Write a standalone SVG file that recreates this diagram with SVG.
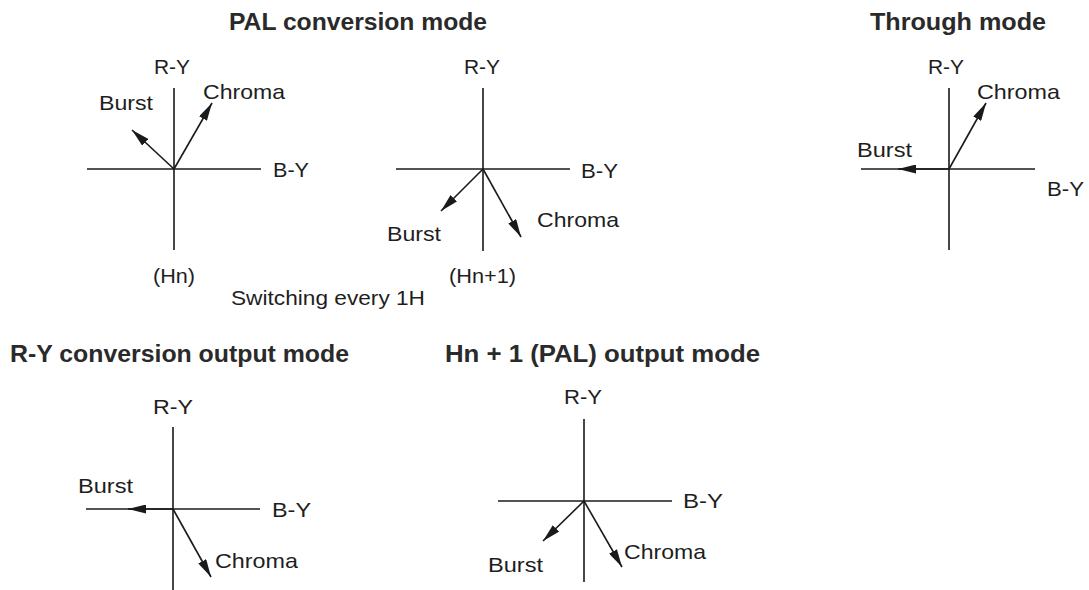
<svg xmlns="http://www.w3.org/2000/svg" width="1089" height="590" viewBox="0 0 1089 590">
<style>
.ax{stroke:#1a1a1a;stroke-width:1.6;fill:none}
.ar{stroke:#1a1a1a;stroke-width:1.6;fill:none;marker-end:url(#ah)}
text{font-family:"Liberation Sans",Arial,Helvetica,sans-serif;fill:#1e1e1e;font-size:21px}
.t{font-weight:bold;font-size:23px;fill:#2a2a2a}
</style>
<defs>
<marker id="ah" viewBox="0 0 18 9" refX="18" refY="4.5" markerWidth="18" markerHeight="9" markerUnits="userSpaceOnUse" orient="auto">
<path d="M0,0 L18,4.5 L0,9 z" fill="#1a1a1a"/>
</marker>
</defs>
<rect width="1089" height="590" fill="#ffffff"/>
<g id="titles">
<text class="t" x="229" y="30" textLength="258" lengthAdjust="spacingAndGlyphs">PAL conversion mode</text>
<text class="t" x="870" y="30" textLength="176" lengthAdjust="spacingAndGlyphs">Through mode</text>
<text class="t" x="10" y="362" textLength="339" lengthAdjust="spacingAndGlyphs">R-Y conversion output mode</text>
<text class="t" x="445" y="362" textLength="315" lengthAdjust="spacingAndGlyphs">Hn + 1 (PAL) output mode</text>
<text x="231" y="305" textLength="194" lengthAdjust="spacingAndGlyphs">Switching every 1H</text>
</g>
<g id="pal-hn">
<line class="ax" x1="174" y1="88" x2="174" y2="250"/>
<line class="ax" x1="87" y1="169" x2="261" y2="169"/>
<text x="154" y="74" textLength="36" lengthAdjust="spacingAndGlyphs">R-Y</text>
<text x="99" y="110" textLength="54" lengthAdjust="spacingAndGlyphs">Burst</text>
<text x="203" y="99" textLength="82" lengthAdjust="spacingAndGlyphs">Chroma</text>
<text x="273" y="177" textLength="36" lengthAdjust="spacingAndGlyphs">B-Y</text>
<text x="153" y="283" textLength="42" lengthAdjust="spacingAndGlyphs">(Hn)</text>
</g>
<g id="pal-hn1">
<line class="ax" x1="483" y1="88" x2="483" y2="251"/>
<line class="ax" x1="396" y1="169" x2="570" y2="169"/>
<text x="464" y="74" textLength="36" lengthAdjust="spacingAndGlyphs">R-Y</text>
<text x="387" y="241" textLength="54" lengthAdjust="spacingAndGlyphs">Burst</text>
<text x="537" y="227" textLength="82" lengthAdjust="spacingAndGlyphs">Chroma</text>
<text x="581" y="178" textLength="37" lengthAdjust="spacingAndGlyphs">B-Y</text>
<text x="449" y="283" textLength="67" lengthAdjust="spacingAndGlyphs">(Hn+1)</text>
</g>
<g id="through">
<line class="ax" x1="949" y1="88" x2="949" y2="250"/>
<line class="ax" x1="861" y1="169" x2="1035" y2="169"/>
<text x="928" y="74" textLength="36" lengthAdjust="spacingAndGlyphs">R-Y</text>
<text x="857" y="157" textLength="55" lengthAdjust="spacingAndGlyphs">Burst</text>
<text x="977" y="99" textLength="83" lengthAdjust="spacingAndGlyphs">Chroma</text>
<text x="1047" y="196" textLength="37" lengthAdjust="spacingAndGlyphs">B-Y</text>
</g>
<g id="ry-output">
<line class="ax" x1="173" y1="427" x2="173" y2="590"/>
<line class="ax" x1="86" y1="509" x2="260" y2="509"/>
<text x="153" y="414" textLength="40" lengthAdjust="spacingAndGlyphs">R-Y</text>
<text x="78" y="493" textLength="55" lengthAdjust="spacingAndGlyphs">Burst</text>
<text x="215" y="568" textLength="83" lengthAdjust="spacingAndGlyphs">Chroma</text>
<text x="272" y="517" textLength="39" lengthAdjust="spacingAndGlyphs">B-Y</text>
</g>
<g id="hn1-output">
<line class="ax" x1="584" y1="419" x2="584" y2="582"/>
<line class="ax" x1="498" y1="501" x2="672" y2="501"/>
<text x="564" y="404" textLength="38" lengthAdjust="spacingAndGlyphs">R-Y</text>
<text x="488" y="572" textLength="55" lengthAdjust="spacingAndGlyphs">Burst</text>
<text x="624" y="559" textLength="82" lengthAdjust="spacingAndGlyphs">Chroma</text>
<text x="683" y="508" textLength="40" lengthAdjust="spacingAndGlyphs">B-Y</text>
</g>
<g id="connectors">
<line class="ar" x1="174" y1="169" x2="132" y2="130"/>
<line class="ar" x1="174" y1="169" x2="212" y2="103"/>
<line class="ar" x1="483" y1="169" x2="441" y2="211"/>
<line class="ar" x1="483" y1="169" x2="521" y2="237"/>
<line class="ar" x1="949" y1="169" x2="898" y2="169"/>
<line class="ar" x1="949" y1="169" x2="986" y2="103"/>
<line class="ar" x1="173" y1="509" x2="128" y2="509"/>
<line class="ar" x1="173" y1="509" x2="211" y2="577"/>
<line class="ar" x1="584" y1="501" x2="543" y2="541"/>
<line class="ar" x1="584" y1="501" x2="622" y2="567"/>
</g>
</svg>
